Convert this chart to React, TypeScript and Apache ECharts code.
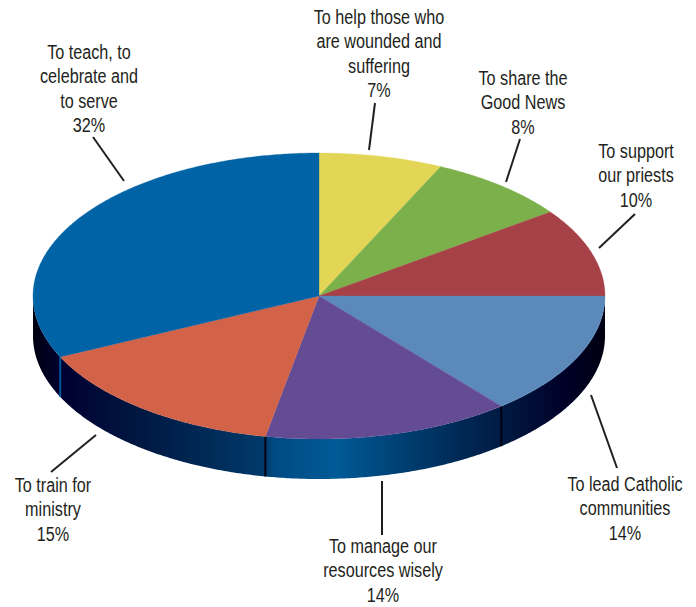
import React, { useEffect, useRef } from "react";
import * as echarts from "echarts";

const sliceNames = [
  "To help those who\nare wounded and\nsuffering",
  "To share the\nGood News",
  "To support\nour priests",
  "To lead Catholic\ncommunities",
  "To manage our\nresources wisely",
  "To train for\nministry",
  "To teach, to\ncelebrate and\nto serve",
];
const sliceValues = [7, 8, 10, 14, 14, 15, 32];
const sliceColors = ["#e3d555", "#7bb04a", "#a64147", "#5a89ba", "#634c94", "#d26248", "#0063a6"];
const dividerColors = ["", "", "", "", "#000010", "#000010", "#00569a"];

// centre x, y of the first line of each label
const labelAnchors = [
  [379, 5], [523, 66], [636, 139], [625, 472], [383, 534], [53, 473], [89, 40],
];
const leaders = [
  [375, 103, 369, 150], [520, 139, 506, 182], [635, 214, 599, 248],
  [591, 395, 617, 468], [382, 481, 382, 535], [96, 435, 51, 472], [93, 137, 124, 181],
];

const CX = 319, CY = 296, RX = 286, RY = 143, DEPTH = 40;
const FONT = '"Liberation Sans", sans-serif';

const pt = (deg: number, dy = 0) => {
  const a = (deg * Math.PI) / 180;
  return [CX + RX * Math.sin(a), CY - RY * Math.cos(a) + dy];
};
const arc = (a0: number, a1: number, dy = 0) => {
  const out: number[][] = [];
  const n = Math.max(2, Math.ceil(Math.abs(a1 - a0) * 2));
  for (let i = 0; i <= n; i++) out.push(pt(a0 + ((a1 - a0) * i) / n, dy));
  return out;
};

let running = 0;
const sliceData = sliceValues.map((v) => {
  const row = [running, running + v];
  running += v;
  return row;
});

export default function App() {
  const ref = useRef<HTMLDivElement>(null);
  useEffect(() => {
    document.body.style.margin = "0";
    const chart = echarts.init(ref.current!, null, { renderer: "svg" });
    const sideFill = new echarts.graphic.LinearGradient(33, 0, 605, 0, [
      { offset: 0, color: "#000010" },
      { offset: 0.05, color: "#000030" },
      { offset: 0.2, color: "#001a44" },
      { offset: 0.405, color: "#003a6a" },
      { offset: 0.42, color: "#004a82" },
      { offset: 0.53, color: "#005a96" },
      { offset: 0.66, color: "#003c6e" },
      { offset: 0.81, color: "#001c44" },
      { offset: 0.93, color: "#000028" },
      { offset: 1, color: "#000010" },
    ], true);

    chart.setOption({
      animation: false,
      tooltip: { show: false },
      series: [
        {
          type: "custom",
          coordinateSystem: "none",
          silent: true,
          data: sliceData,
          renderItem: (params: any, api: any) => {
            const a0 = Math.max((api.value(0) as number) * 3.6, 90);
            const a1 = Math.min((api.value(1) as number) * 3.6, 270);
            if (a1 <= a0) return { type: "group", children: [] };
            const top = arc(a0, a1);
            const bottom = arc(a1, a0, DEPTH);
            const children: any[] = [
              { type: "polygon", shape: { points: [...top, ...bottom] }, style: { fill: sideFill } },
            ];
            const dc = dividerColors[params.dataIndex];
            if (dc) {
              const [x, y] = pt(a0);
              children.push({
                type: "line",
                shape: { x1: x, y1: y, x2: x, y2: y + DEPTH },
                style: { stroke: dc, lineWidth: 2 },
                z2: 5,
              });
            }
            return { type: "group", children };
          },
        },
        {
          type: "custom",
          coordinateSystem: "none",
          silent: true,
          z: 3,
          data: sliceData,
          renderItem: (params: any, api: any) => {
            const a0 = (api.value(0) as number) * 3.6;
            const a1 = (api.value(1) as number) * 3.6;
            return {
              type: "polygon",
              shape: { points: [[CX, CY], ...arc(a0, a1)] },
              style: { fill: sliceColors[params.dataIndex], stroke: sliceColors[params.dataIndex], lineWidth: 0.3 },
            };
          },
        },
      ],
      graphic: [
        ...leaders.map(([x1, y1, x2, y2]) => ({
          type: "line",
          shape: { x1, y1, x2, y2 },
          style: { stroke: "#231f20", lineWidth: 2 },
        })),
        ...sliceNames.map((name, i) => ({
          type: "text",
          x: labelAnchors[i][0],
          y: labelAnchors[i][1],
          scaleX: 0.81,
          style: {
            text: `${name}\n${sliceValues[i]}%`,
            font: `20px ${FONT}`,
            lineHeight: 24.4,
            fill: "#231f20",
            align: "center",
            verticalAlign: "top",
          },
        })),
      ],
    });
    return () => chart.dispose();
  }, []);
  return <div ref={ref} style={{ width: 696, height: 607 }} />;
}
